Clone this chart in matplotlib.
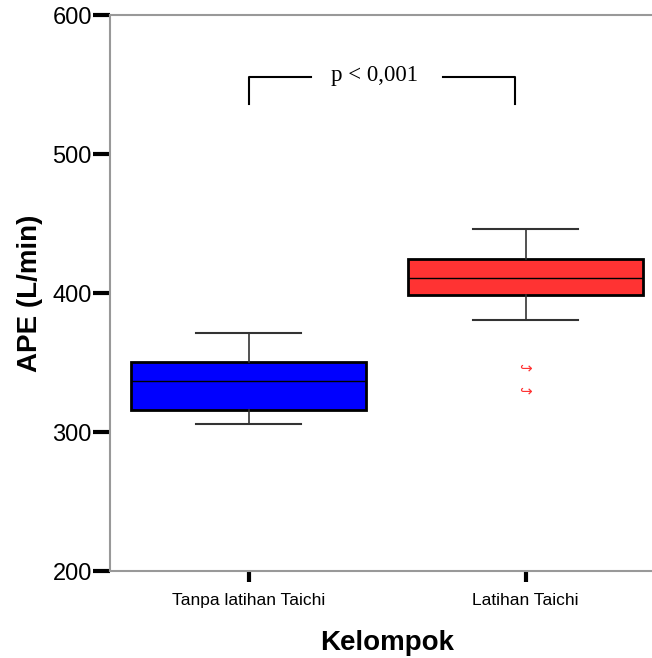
import matplotlib
matplotlib.use("Agg")
import matplotlib.pyplot as plt

plt.rcParams['font.family'] = ['Liberation Sans', 'DejaVu Sans']

# data
groups = ["Tanpa latihan Taichi", "Latihan Taichi"]
q1 = [315.8, 398.6]
median = [336.7, 410.8]
q3 = [350.4, 424.5]
whislo = [305.8, 380.6]
whishi = [371.2, 446.0]
outliers = [[], [346.0, 329.5]]
box_colors = ["#0000FF", "#FF3333"]
y_ticks = [200, 300, 400, 500, 600]
p_text = "p < 0,001"

stats = []
for i in range(len(groups)):
    stats.append({"label": groups[i], "q1": q1[i], "med": median[i], "q3": q3[i],
                  "whislo": whislo[i], "whishi": whishi[i], "fliers": outliers[i]})

fig = plt.figure(figsize=(6.52, 6.58), dpi=100)
ax = fig.add_axes([0.1687, 0.1322, 0.85, 0.8450])

pos = [1, 2]
bp = ax.bxp(stats, positions=pos, widths=0.85, patch_artist=True, showfliers=False,
            boxprops=dict(linewidth=2, edgecolor="black"),
            medianprops=dict(color="black", linewidth=1),
            whiskerprops=dict(color="#333333", linewidth=1.2),
            capprops=dict(color="#333333", linewidth=1.5),
            capwidths=0.38)
for patch, c in zip(bp["boxes"], box_colors):
    patch.set_facecolor(c)

# outliers drawn as hook-arrow symbols like the SPSS output
for i in range(len(groups)):
    for v in outliers[i]:
        ax.text(pos[i], v, "\u21aa", color="#FF3333", fontsize=11, ha="center", va="center",
                family="DejaVu Sans")

# significance bracket
ax.plot([1, 1, 1.225], [536, 555.4, 555.4], color="black", linewidth=1.5)
ax.plot([1.702, 1.962, 1.962], [555.4, 555.4, 536], color="black", linewidth=1.5)
ax.text(1.456, 556.8, p_text, ha="center", va="center", fontsize=16.5,
        family="Liberation Serif")

ax.set_xlim(0.5, 2.5)
ax.set_ylim(200, 600)
ax.set_yticks(y_ticks)
ax.set_xticks(pos)
ax.set_xticklabels(groups, fontsize=12.5)
ax.tick_params(axis="y", labelsize=17, length=12, width=3, direction="out", pad=1)
ax.tick_params(axis="x", length=8, width=3, direction="out", pad=8)

for s in ["left", "top", "bottom", "right"]:
    ax.spines[s].set_color("#999999")
    ax.spines[s].set_linewidth(1.5)

ax.set_ylabel("APE (L/min)", fontsize=20, fontweight="bold", labelpad=7)
ax.set_xlabel("Kelompok", fontsize=20, fontweight="bold", labelpad=16)

fig.savefig("out.png", dpi=100)
